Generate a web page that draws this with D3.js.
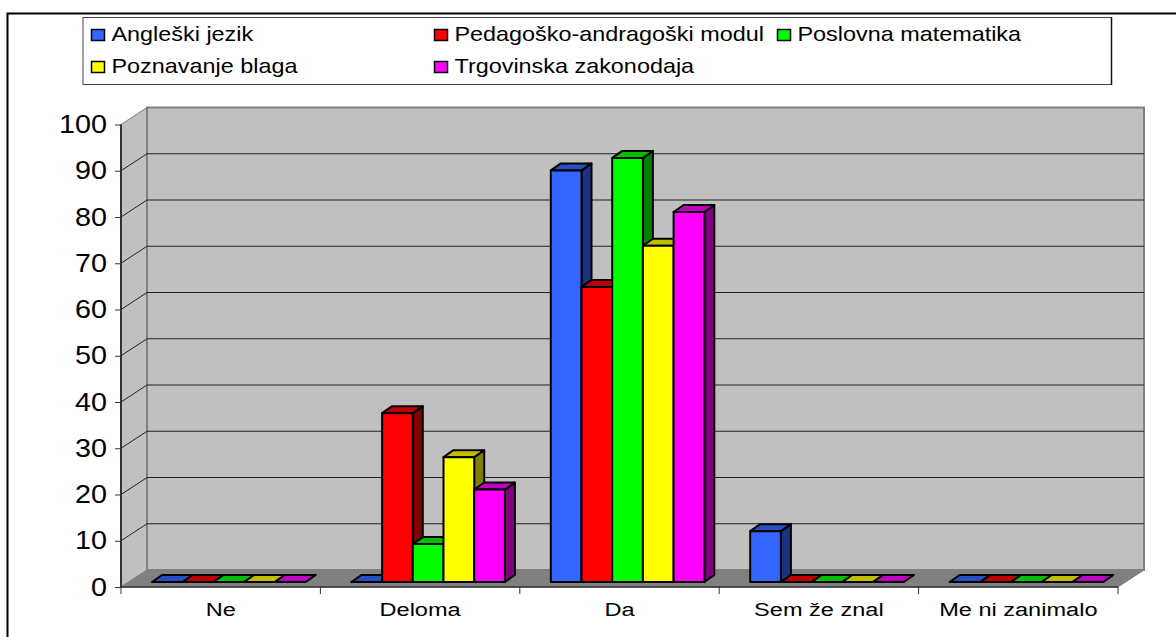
<!DOCTYPE html>
<html><head><meta charset="utf-8">
<script src="https://cdn.jsdelivr.net/npm/d3@7/dist/d3.min.js"></script>
<style>html,body{margin:0;padding:0;background:#fff}svg{display:block}text{font-family:"Liberation Sans",Arial,sans-serif;fill:#000}</style>
</head><body><svg id="c" width="1176" height="637"></svg>
<script>
const categories = ["Ne","Deloma","Da","Sem že znal","Me ni zanimalo"];
const seriesNames = ["Angleški jezik","Pedagoško-andragoški modul","Poslovna matematika","Poznavanje blaga","Trgovinska zakonodaja"];
const angleski = [0,0,89,11,0];
const pedagosko = [0,36.5,63.8,0,0];
const poslovna = [0,8.2,91.7,0,0];
const poznavanje = [0,27,72.7,0,0];
const trgovinska = [0,20,80,0,0];
const allSeries = [angleski,pedagosko,poslovna,poznavanje,trgovinska];
const frontColors = ["#3366ff","#ff0000","#00ff00","#ffff00","#ff00ff"];
const topColors = ["#2650bf","#bf0000","#00bf00","#bfbf00","#bf00bf"];
const sideColors = ["#1a3380","#800000","#008000","#808000","#800080"];
const yTicks = d3.range(0,101,10);

const svg = d3.select("#c");
const L=121,R=1118,T=124.5,B=587, DX=26, DY=17;
const x = d3.scaleBand().domain(categories).range([L,R]);
const y = d3.scaleLinear().domain([0,100]).range([B,T]);
const BARW = 30.7, SHIFT_X=31, SHIFT_Y=-5, dx=10, dy=7;
const xs = d3.scaleBand().domain(d3.range(5)).range([0,BARW*5]);

// outer frame: only top and left edges are visible
svg.append("path").attr("d","M7.5,637V13.5H1176").attr("fill","none").attr("stroke","#000").attr("stroke-width",2);

// walls
svg.append("polygon").attr("points",`${L},${T} ${L+DX},${T-DY} ${L+DX},${B-DY} ${L},${B}`).attr("fill","#c0c0c0").attr("stroke","#808080").attr("stroke-width",1);
svg.append("rect").attr("x",L+DX).attr("y",T-DY).attr("width",R-L).attr("height",B-T).attr("fill","#c0c0c0").attr("stroke","#808080").attr("stroke-width",2);
svg.append("polygon").attr("points",`${L},${B} ${L+DX},${B-DY} ${R+DX},${B-DY} ${R},${B}`).attr("fill","#808080").attr("stroke","#808080");

// gridlines
yTicks.filter(d=>d>0&&d<100).forEach(d=>{
  svg.append("path").attr("d",`M${L},${y(d)}L${L+DX},${y(d)-DY}L${R+DX},${y(d)-DY}`).attr("fill","none").attr("stroke","#222").attr("stroke-width",1);
});

// axes
const gy = svg.append("g").attr("transform",`translate(${L},0)`).call(d3.axisLeft(y).tickValues(yTicks).tickSize(6));
gy.selectAll("text").attr("font-size",25).attr("x",-12.2).attr("transform","scale(1.15,1)").style("font-family",'"Liberation Sans"');
gy.select(".domain").attr("stroke","#333").attr("stroke-width",2).attr("d",`M0,${T}V${B}`);
gy.selectAll("line").attr("stroke","#333");
const gx = svg.append("g").attr("transform",`translate(0,${B})`).call(d3.axisBottom(x).tickSize(0).tickPadding(15.5));
gx.selectAll("text").attr("font-size",19).attr("transform","scale(1.24,1)").style("font-family",'"Liberation Sans"');
gx.select(".domain").attr("stroke","#333").attr("stroke-width",1.5).attr("d",`M${L},0H${R}`);
const tickPos = categories.map(c=>x(c)).concat([R]);
gx.selectAll(".sep").data(tickPos).join("line").attr("class","sep").attr("x1",d=>d).attr("x2",d=>d).attr("y1",0).attr("y2",7).attr("stroke","#333");

// bars
categories.forEach((c,ci)=>{
  allSeries.forEach((vals,si)=>{
    const v=vals[ci];
    const x0=x(c)+SHIFT_X+xs(si), x1=x0+xs.bandwidth();
    const yb=y(0)+SHIFT_Y, yt=y(v)+SHIFT_Y;
    const g=svg.append("g").attr("stroke","#000").attr("stroke-width",2).attr("stroke-linejoin","round");
    g.append("polygon").attr("points",`${x1},${yt} ${x1+dx},${yt-dy} ${x1+dx},${yb-dy} ${x1},${yb}`).attr("fill",sideColors[si]);
    g.append("polygon").attr("points",`${x0},${yt} ${x0+dx},${yt-dy} ${x1+dx},${yt-dy} ${x1},${yt}`).attr("fill",topColors[si]);
    if(v>0) g.append("rect").attr("x",x0).attr("y",yt).attr("width",x1-x0).attr("height",yb-yt).attr("fill",frontColors[si]);
  });
});

// legend
svg.append("rect").attr("x",83).attr("y",17.5).attr("width",1028.5).attr("height",67).attr("fill","#fff").attr("stroke","#444").attr("stroke-width",1);
svg.append("path").attr("d","M1111.5,17V85").attr("stroke","#111").attr("stroke-width",1.5);
const legX=[91,434,777,91,434], legY=[35,35,35,67,67];
const lg=svg.selectAll(".leg").data(seriesNames).join("g").attr("class","leg").attr("transform",(d,i)=>`translate(${legX[i]},${legY[i]})`);
lg.append("rect").attr("x",0.5).attr("y",-5.5).attr("width",13).attr("height",11).attr("fill",(d,i)=>frontColors[i]).attr("stroke","#000").attr("stroke-width",1.5);
lg.append("text").attr("transform","translate(20.5,5.5) scale(1.17,1)").attr("font-size",20).text(d=>d);
</script></body></html>
